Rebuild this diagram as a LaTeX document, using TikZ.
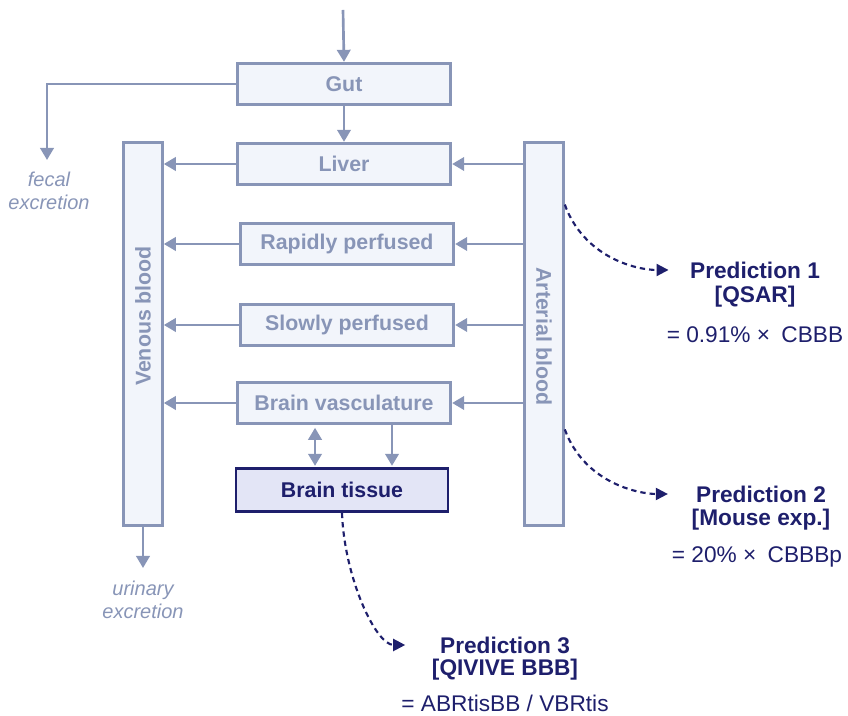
\documentclass[tikz,border=0pt]{standalone}
\usepackage{fontspec}
\setmainfont{Liberation Sans}
\usetikzlibrary{arrows.meta,calc}
\definecolor{slate}{HTML}{8895B7}
\definecolor{paleslate}{HTML}{F2F5FB}
\definecolor{navy}{HTML}{1E1F6C}
\definecolor{lavender}{HTML}{E3E5F6}
\tikzset{
  flowtip/.tip={Triangle[length=9pt,width=10pt]},
  organ/.style={draw=slate,fill=paleslate,line width=2.2pt,minimum width=160pt,minimum height=31pt,
    text=slate,font=\fontsize{16}{19}\selectfont\bfseries},
  blood/.style={organ,minimum width=29pt,minimum height=287.5pt},
  bloodtext/.style={text=slate,font=\fontsize{16}{19}\selectfont\bfseries,inner sep=0pt},
  tissue/.style={organ,draw=navy,fill=lavender,text=navy,minimum width=159pt,minimum height=32pt},
  flow/.style={draw=slate,line width=2pt,-flowtip},
  twoway/.style={flow,flowtip-flowtip},
  pred/.style={draw=navy,line width=1.6pt,dash pattern=on 4pt off 3pt,-{Triangle[length=9pt,width=9pt]}},
  predtitle/.style={text=navy,font=\fontsize{17}{20}\selectfont\bfseries,inner sep=0pt},
  predval/.style={text=navy,font=\fontsize{17}{20}\selectfont,inner sep=0pt},
  excr/.style={text=slate,font=\fontsize{15}{17}\selectfont\itshape,align=center,inner sep=0pt}
}
\begin{document}
\begin{tikzpicture}[x=0.75pt,y=0.75pt]
\useasboundingbox (0,0) rectangle (848,716);
% compartments
\node[organ] (gut) at (344,632) {Gut};
\node[organ] (liver) at (344,552) {Liver};
\node[organ] (rapid) at (347,472) {Rapidly perfused};
\node[organ] (slow) at (347,391) {Slowly perfused};
\node[organ] (bvasc) at (344,313) {Brain vasculature};
\node[tissue] (btissue) at (342,226) {Brain tissue};
\node[blood] (venous) at (143,382) {};
\node[blood] (arterial) at (544,382) {};
\node[bloodtext,rotate=90] (venouslbl) at ([yshift=13.5pt]venous.center) {Venous blood};
\node[bloodtext,rotate=-90] (arteriallbl) at ([yshift=-2pt]arterial.center) {Arterial blood};
% oral uptake and excretion
\coordinate (oral) at (343,706);
\draw[flow] (oral) -- (gut.north);
\draw[flow] (gut) -- (liver);
\coordinate (fecalend) at (47,556);
\draw[flow] (gut.west) -| (fecalend);
\node[excr] (fecal) at (49,525) {fecal\\excretion};
\coordinate (urinend) at (143,148);
\draw[flow] (venous.south) -- (urinend);
\node[excr] (urinary) at (143,116) {urinary\\excretion};
% blood flows
\foreach \o in {liver,rapid,slow,bvasc} {
  \draw[flow] (\o.west) -- (venous.east |- \o.west);
  \draw[flow] (arterial.west |- \o.east) -- (\o.east);
}
% brain exchange
\coordinate (bx1) at ($(bvasc.south west)!0.366!(bvasc.south east)$);
\coordinate (bx2) at ($(bvasc.south west)!0.722!(bvasc.south east)$);
\draw[twoway,shorten <=2pt,shorten >=1pt] (bx1) -- (bx1 |- btissue.north);
\draw[flow,shorten >=1pt] (bx2) -- (bx2 |- btissue.north);
% predictions
\node[predtitle] (p1) at (755,446) {Prediction 1};
\node[predtitle] (p1b) at (755,419) {[QSAR]};
\node[predval] (p1f) at (755,381) {= 0.91\% ×\enspace CBBB};
\node[predtitle] (p2) at (761,222) {Prediction 2};
\node[predtitle] (p2b) at (761,196) {[Mouse exp.]};
\node[predval] (p2f) at (757,159) {= 20\% ×\enspace CBBBp};
\node[predtitle] (p3) at (505,71) {Prediction 3};
\node[predtitle] (p3b) at (505,46) {[QIVIVE BBB]};
\node[predval] (p3f) at (505,13) {= ABRtisBB / VBRtis};
\coordinate (a1) at ($(arterial.north east)!0.165!(arterial.south east)$);
\coordinate (a2) at ($(arterial.north east)!0.747!(arterial.south east)$);
\draw[pred,shorten >=16pt] (a1) to[out=-70,in=180] (p1.west);
\draw[pred,shorten >=21pt] (a2) to[out=-70,in=180] (p2.west);
\draw[pred,shorten >=26pt] (btissue.south) to[out=-88,in=180] (p3.west);
\end{tikzpicture}
\end{document}
